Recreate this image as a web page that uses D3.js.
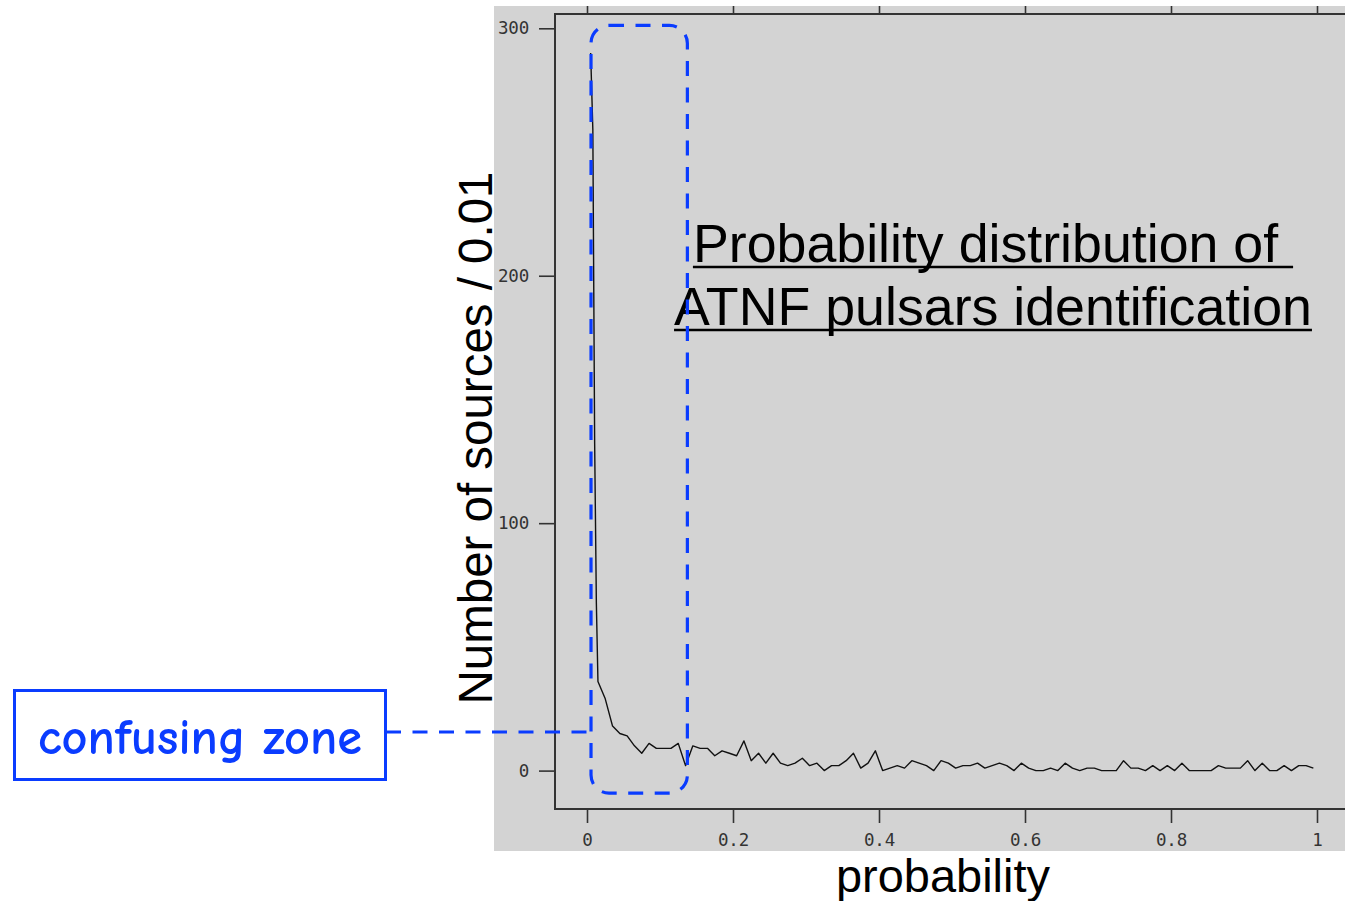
<!DOCTYPE html>
<html>
<head>
<meta charset="utf-8">
<script src="https://cdn.jsdelivr.net/npm/d3@7/dist/d3.min.js"></script>
<style>
  body { margin: 0; background: #fff; }
  svg { display: block; }
  .axis .tick text { font-family: "DejaVu Sans Mono", monospace; font-size: 17.5px; fill: #333; letter-spacing: -0.2px; }
  .axis .tick line { stroke: #333; stroke-width: 1.6; }
  .big { font-family: "Liberation Sans", Arial, sans-serif; fill: #000; }
</style>
</head>
<body>
<svg width="1345" height="901"></svg>
<script>
// probability (bin centres, finer near 0) and number of sources per 0.01
var probability = [0.005, 0.008, 0.0105, 0.0128, 0.015,
  0.025, 0.035, 0.045, 0.055, 0.065, 0.075, 0.085, 0.095, 0.105, 0.115,
  0.125, 0.135, 0.145, 0.155, 0.165, 0.175, 0.185, 0.195, 0.205, 0.215,
  0.225, 0.235, 0.245, 0.255, 0.265, 0.275, 0.285, 0.295, 0.305, 0.315,
  0.325, 0.335, 0.345, 0.355, 0.365, 0.375, 0.385, 0.395, 0.405, 0.415,
  0.425, 0.435, 0.445, 0.455, 0.465, 0.475, 0.485, 0.495, 0.505, 0.515,
  0.525, 0.535, 0.545, 0.555, 0.565, 0.575, 0.585, 0.595, 0.605, 0.615,
  0.625, 0.635, 0.645, 0.655, 0.665, 0.675, 0.685, 0.695, 0.705, 0.715,
  0.725, 0.735, 0.745, 0.755, 0.765, 0.775, 0.785, 0.795, 0.805, 0.815,
  0.825, 0.835, 0.845, 0.855, 0.865, 0.875, 0.885, 0.895, 0.905, 0.915,
  0.925, 0.935, 0.945, 0.955, 0.965, 0.975, 0.985, 0.995];
var sources = [290, 259, 132, 68, 36,
  29, 18, 15, 14, 10, 7, 11, 9, 9, 9,
  11, 2, 10, 9, 9, 6, 8, 7, 6, 12,
  4, 7, 3, 7, 3, 2, 3, 5, 2, 3,
  0, 2, 2, 4, 7, 1, 3, 8, 0, 1,
  2, 1, 4, 3, 2, 0, 4, 3, 1, 2,
  2, 3, 1, 2, 3, 2, 0, 3, 1, 0,
  0, 1, 0, 3, 1, 0, 1, 1, 0, 0,
  0, 4, 1, 1, 0, 2, 0, 2, 0, 3,
  0, 0, 0, 0, 2, 1, 1, 1, 4, 0,
  3, 0, 0, 2, 0, 2, 2, 1];
var xTicks = [0, 0.2, 0.4, 0.6, 0.8, 1];
var yTicks = [0, 100, 200, 300];

var W = 1345, H = 901;
var svg = d3.select("svg");
var blue = "#0a3cff";

var x = d3.scaleLinear().domain([0, 1]).range([587, 1317]);
var y = d3.scaleLinear().domain([0, 300]).range([770.6, 28.3]);

var frame = {left: 555, top: 14, right: 1352, bottom: 809};

// grey panel
svg.append("rect")
  .attr("x", 494).attr("y", 6)
  .attr("width", W - 494).attr("height", 845)
  .attr("fill", "#d3d3d3");

// axes
svg.append("g")
  .attr("class", "axis")
  .attr("transform", "translate(0," + frame.bottom + ")")
  .call(d3.axisBottom(x).tickValues(xTicks).tickSize(14).tickPadding(11).tickFormat(d => String(d)))
  .call(g => g.select(".domain").remove());

svg.append("g")
  .attr("class", "axis")
  .attr("transform", "translate(0," + frame.top + ")")
  .call(d3.axisTop(x).tickValues(xTicks).tickSize(8).tickFormat(""))
  .call(g => g.select(".domain").remove());

svg.append("g")
  .attr("class", "axis")
  .attr("transform", "translate(" + frame.left + ",0)")
  .call(d3.axisLeft(y).tickValues(yTicks).tickSize(16).tickPadding(10).tickFormat(d => String(d)))
  .call(g => g.select(".domain").remove());

svg.selectAll(".axis text").attr("font-family", null).attr("font-size", null).attr("fill", null);

// frame
svg.append("rect")
  .attr("x", frame.left).attr("y", frame.top)
  .attr("width", frame.right - frame.left).attr("height", frame.bottom - frame.top)
  .attr("fill", "none").attr("stroke", "#333").attr("stroke-width", 2);

// the curve
var line = d3.line().x(d => x(d[0])).y(d => y(d[1]));
svg.append("path")
  .datum(d3.zip(probability, sources))
  .attr("d", line)
  .attr("fill", "none")
  .attr("stroke", "#111")
  .attr("stroke-width", 1.4)
  .attr("stroke-linejoin", "round");

function fit(sel, target) {
  var w = sel.node().getComputedTextLength();
  var fs = parseFloat(sel.attr("font-size"));
  sel.attr("font-size", fs * target / w);
}

// title (underlined, two lines)
var t2 = svg.append("text").attr("class", "big")
  .attr("font-size", 53).attr("y", 325)
  .text("ATNF pulsars identification");
fit(t2, 638);
var fs = t2.attr("font-size");
var t1 = svg.append("text").attr("class", "big")
  .attr("font-size", fs).attr("y", 262)
  .style("white-space", "pre")
  .text("Probability distribution of ");
[[t1, 262], [t2, 325]].forEach(function (p) {
  var w = p[0].node().getComputedTextLength();
  var x0 = 993 - w / 2;
  p[0].attr("x", x0);
  svg.append("line")
    .attr("x1", x0).attr("x2", x0 + w)
    .attr("y1", p[1] + 5).attr("y2", p[1] + 5)
    .attr("stroke", "#000").attr("stroke-width", 2.6);
});

// axis titles
var xt = svg.append("text").attr("class", "big")
  .attr("font-size", 47).attr("x", 943).attr("y", 892)
  .attr("text-anchor", "middle").text("probability");
fit(xt, 214);

var yt = svg.append("text").attr("class", "big")
  .attr("font-size", 47)
  .attr("transform", "translate(492,438) rotate(-90)")
  .attr("text-anchor", "middle").text("Number of sources / 0.01");
fit(yt, 533);

// confusing zone annotation
svg.append("rect")
  .attr("x", x(0.0055)).attr("y", y(301.2))
  .attr("width", x(0.1375) - x(0.0055)).attr("height", y(-9.1) - y(301.2))
  .attr("rx", 18).attr("ry", 18)
  .attr("fill", "none").attr("stroke", blue)
  .attr("stroke-width", 3.2).attr("stroke-dasharray", "15 11.5");

svg.append("line")
  .attr("x1", 386).attr("x2", x(0.0055))
  .attr("y1", 732).attr("y2", 732)
  .attr("stroke", blue).attr("stroke-width", 3.2).attr("stroke-dasharray", "15 11.5");

svg.append("rect")
  .attr("x", 14.5).attr("y", 690.5).attr("width", 371).attr("height", 89)
  .attr("fill", "#fff").attr("stroke", blue).attr("stroke-width", 3);

var cz = svg.append("text")
  .attr("x", 38).attr("y", 754)
  .attr("font-family", "'Comic Sans MS', 'Comic Neue', 'DejaVu Sans', sans-serif")
  .attr("font-weight", "bold")
  .attr("font-size", 44).attr("fill", blue)
  .text("confusing zone");
fit(cz, 324);
</script>
</body>
</html>
